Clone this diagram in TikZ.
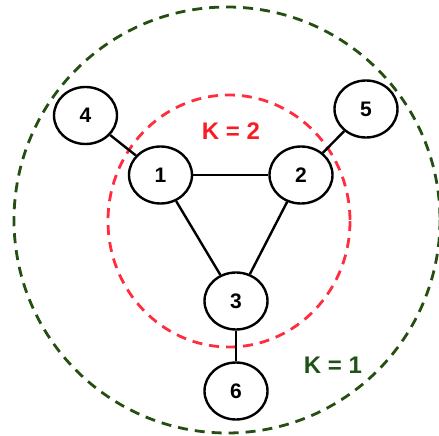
\documentclass[tikz,border=0pt]{standalone}
\usepackage{fontspec}
\setmainfont{Liberation Sans}
\usetikzlibrary{shapes.geometric}
\definecolor{kred}{HTML}{FF2D3D}
\definecolor{kgreen}{HTML}{254F12}
\definecolor{kredtext}{HTML}{F81C24}
\definecolor{kgreentext}{HTML}{1F5217}
\tikzset{
  vertex/.style={ellipse, draw=black, line width=2.4pt, fill=white,
    minimum width=63pt, minimum height=57pt, inner sep=0pt,
    font=\fontsize{21}{21}\selectfont\bfseries},
  edge/.style={line width=2.4pt, draw=black},
  ring/.style={line width=2.8pt, dash pattern=on 10pt off 7pt},
  klabel/.style={font=\fontsize{24}{24}\selectfont\bfseries}
}
\begin{document}
\begin{tikzpicture}[x=1pt,y=-1pt]
\useasboundingbox (0,0) rectangle (439,436);
\draw[ring, draw=kgreen] (227,220) circle [radius=213];
\draw[ring, draw=kred] (229,221) ellipse [x radius=121, y radius=126];
\node[vertex] (n4) at (85.5,115.5) {4};
\node[vertex] (n1) at (160.5,175) {1};
\node[vertex] (n2) at (301,175) {2};
\node[vertex] (n5) at (366,109) {5};
\node[vertex] (n3) at (236,301) {3};
\node[vertex] (n6) at (236,391) {6};
\begin{scope}[on background layer/.try]
\end{scope}
\draw[edge] (n4) -- (n1);
\draw[edge] (n1) -- (n2);
\draw[edge] (n1) -- (n3);
\draw[edge] (n2) -- (n3);
\draw[edge] (n2) -- (n5);
\draw[edge] (n3) -- (n6);
\node[klabel, text=kredtext] (k2) at (231,131) {K = 2};
\node[klabel, text=kgreentext] (k1) at (333,365) {K = 1};
\end{tikzpicture}
\end{document}
